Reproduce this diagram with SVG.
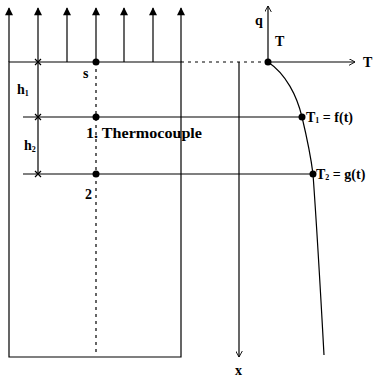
<svg xmlns="http://www.w3.org/2000/svg" width="374" height="378" viewBox="0 0 374 378">
<style>
.l{stroke:#000;stroke-width:1.2;fill:none}
.d{stroke:#000;stroke-width:1.2;fill:none;stroke-dasharray:3,4}
.t{font-family:"Liberation Serif",serif;font-weight:bold;font-size:14px;fill:#000}
.dot{fill:#000}
</style>
<defs>
<marker id="fa" viewBox="0 0 10 10" refX="9" refY="5" markerWidth="11" markerHeight="8" orient="auto" markerUnits="userSpaceOnUse"><path d="M0,0 L10,5 L0,10 Z" fill="#000"/></marker>
<marker id="oa" viewBox="0 0 10 10" refX="9" refY="5" markerWidth="7" markerHeight="7" orient="auto" markerUnits="userSpaceOnUse"><path d="M0,0 L9,5 L0,10" fill="none" stroke="#000" stroke-width="1.3"/></marker>
</defs>
<g id="connectors">
<path class="l" d="M9,62 V8" marker-end="url(#fa)"/>
<path class="l" d="M38,62 V8" marker-end="url(#fa)"/>
<path class="l" d="M67,62 V8" marker-end="url(#fa)"/>
<path class="l" d="M96,62 V8" marker-end="url(#fa)"/>
<path class="l" d="M124,62 V8" marker-end="url(#fa)"/>
<path class="l" d="M153,62 V8" marker-end="url(#fa)"/>
<path class="l" d="M181,62 V8" marker-end="url(#fa)"/>
<path class="l" d="M268,62 H355" marker-end="url(#oa)"/>
<path class="l" d="M268,62 V6" marker-end="url(#oa)"/>
<path class="l" d="M239,62 V357" marker-end="url(#oa)"/>
</g>
<g id="plate">
<path class="l" d="M9,62 V357 H181 V62 Z"/>
<path class="d" d="M181,62 H268"/>
<path class="d" d="M96,62 V352" stroke-dasharray="2,9"/>
</g>
<g id="dimension">
<path class="l" d="M38,62 V174" stroke-width="0.8"/>
<path class="l" d="M35,59 L41,65 M41,59 L35,65 M35,114 L41,120 M41,114 L35,120 M35,171 L41,177 M41,171 L35,177" stroke-width="0.8"/>
<text class="t" x="17" y="94">h<tspan font-size="8" dy="2">1</tspan></text>
<text class="t" x="24" y="150">h<tspan font-size="8" dy="2">2</tspan></text>
</g>
<g id="line1">
<path class="l" d="M23,117 H302"/>
</g>
<g id="line2">
<path class="l" d="M23,174 H313"/>
</g>
<g id="curve">
<path class="l" d="M268,62 C286,74 297,96 302,117 C307,138 311,158 313,174 C317,230 321,300 324,355"/>
</g>
<g id="s">
<circle class="dot" cx="96" cy="62" r="3.5"/>
<text class="t" x="83" y="78">s</text>
</g>
<g id="tc1">
<circle class="dot" cx="96" cy="117" r="3.5"/>
<text class="t" x="86" y="138" textLength="116" lengthAdjust="spacingAndGlyphs">1. Thermocouple</text>
</g>
<g id="tc2">
<circle class="dot" cx="96" cy="174" r="3.5"/>
<text class="t" x="85" y="199">2</text>
</g>
<g id="Ts">
<circle class="dot" cx="268" cy="62" r="3.5"/>
<text class="t" x="275" y="46">T</text>
</g>
<g id="T1">
<circle class="dot" cx="302" cy="117" r="3.5"/>
<text class="t" x="306" y="122">T<tspan font-size="8" dy="1">1</tspan><tspan dy="-1"> = f(t)</tspan></text>
</g>
<g id="T2">
<circle class="dot" cx="313" cy="174" r="3.5"/>
<text class="t" x="316" y="179">T<tspan font-size="8" dy="1">2</tspan><tspan dy="-1"> = g(t)</tspan></text>
</g>
<g id="labels">
<text class="t" x="255" y="25">q</text>
<text class="t" x="363" y="67">T</text>
<text class="t" x="235" y="375" font-size="11">x</text>
</g>
</svg>
